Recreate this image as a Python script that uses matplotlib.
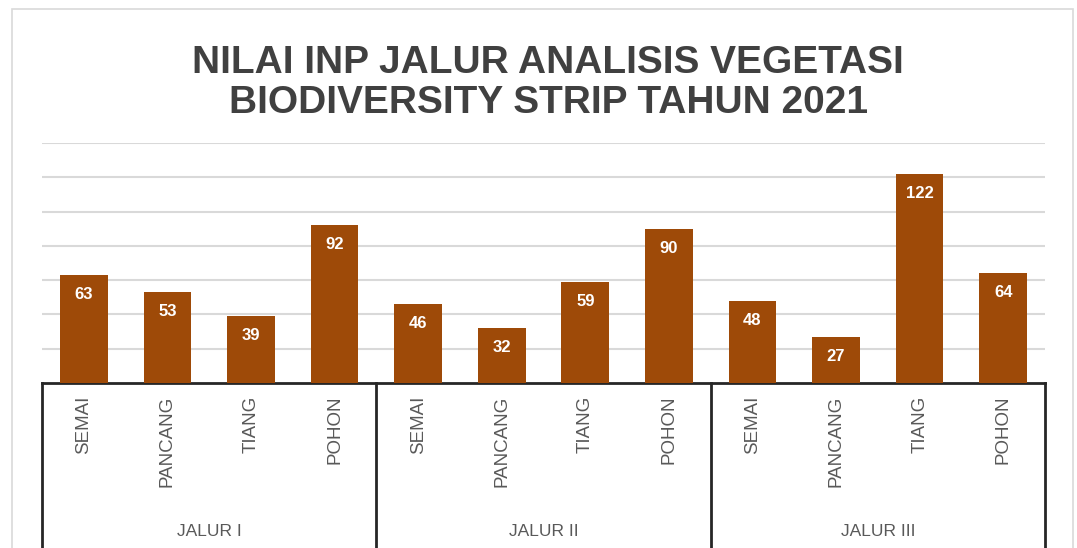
import matplotlib.pyplot as plt
from matplotlib.transforms import blended_transform_factory
from matplotlib.patches import Rectangle

# data
groups = ["JALUR I", "JALUR II", "JALUR III"]
kategori = ["SEMAI", "PANCANG", "TIANG", "POHON"]
nilai_inp = [63, 53, 39, 92, 46, 32, 59, 90, 48, 27, 122, 64]

BAR = "#9E4A08"
GRID = "#D9D9D9"
TXT = "#595959"

plt.rcParams["font.family"] = ["Liberation Sans", "DejaVu Sans"]

fig = plt.figure(figsize=(10.77, 5.48), dpi=100)
ax = fig.add_axes([0.039, 0.301, 0.9313, 0.438])

labels = kategori * len(groups)
x = list(range(len(nilai_inp)))
bars = ax.bar(x, nilai_inp, width=0.57, color=BAR, zorder=3)

for xi, v in zip(x, nilai_inp):
    ax.annotate(f"{v}", (xi, v), xytext=(0, -14), textcoords="offset points",
                ha="center", va="center", color="white", fontsize=12, fontweight="bold", zorder=4)

ax.set_xlim(-0.5, len(nilai_inp) - 0.5)
ax.set_ylim(0, 140)
ax.set_yticks(range(20, 141, 20))
ax.yaxis.grid(True, color=GRID, linewidth=1.5, zorder=0)
ax.tick_params(axis="y", length=0, labelleft=False)
for s in ["left", "right", "top"]:
    ax.spines[s].set_visible(False)
ax.spines["bottom"].set_color("#262626")
ax.spines["bottom"].set_linewidth(2)

ax.set_xticks(x)
ax.set_xticklabels(labels, rotation=90, va="top", ha="center", fontsize=13.5, color=TXT)
ax.tick_params(axis="x", length=0, pad=9)

# group boxes below the axis
tr = blended_transform_factory(ax.transData, ax.transAxes)
n = len(kategori)
for i in range(len(groups) + 1):
    xb = i * n - 0.5
    ax.plot([xb, xb], [0, -0.75], transform=tr, color="#262626", lw=2, clip_on=False)

trf = blended_transform_factory(ax.transData, fig.transFigure)
for i, g in enumerate(groups):
    xc = i * n + (n - 1) / 2
    fig.text(xc, 0.031, g, transform=trf, ha="center", va="center", fontsize=12.5, color=TXT)

fig.text(0.509, 0.885, "NILAI INP JALUR ANALISIS VEGETASI", ha="center", va="center",
         fontsize=28, fontweight="bold", color="#404040")
fig.text(0.509, 0.812, "BIODIVERSITY STRIP TAHUN 2021", ha="center", va="center",
         fontsize=28, fontweight="bold", color="#404040")

# chart border
fig.patches.append(Rectangle((0.011, -0.01), 0.985, 0.993, transform=fig.transFigure,
                             fill=False, edgecolor="#D9D9D9", lw=1.2))

fig.savefig("out.png", dpi=100)
